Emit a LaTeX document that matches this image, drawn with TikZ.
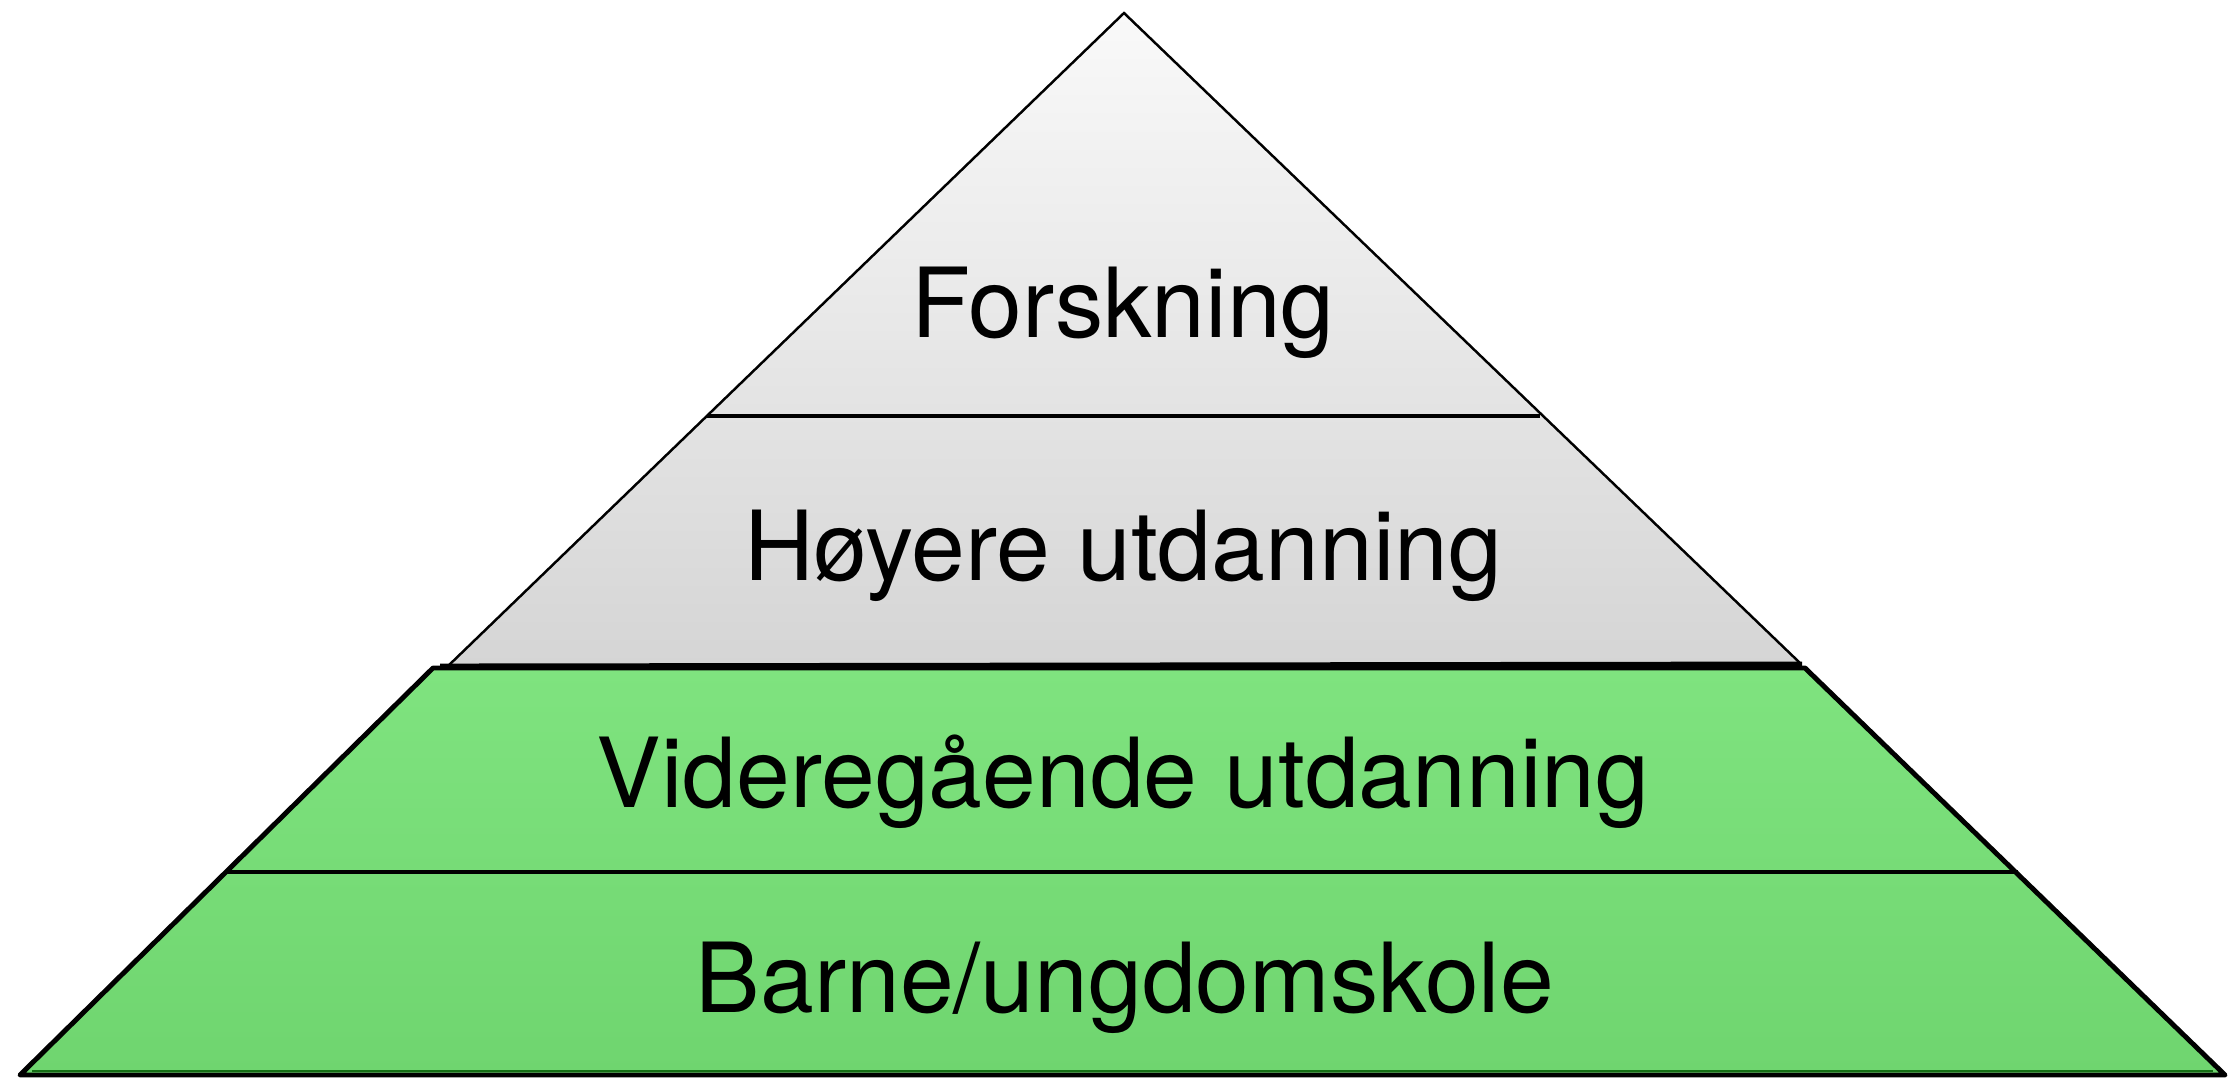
\documentclass[tikz,border=0pt]{standalone}
\usepackage{fontspec}
\setmainfont{TeX Gyre Heros}
\usepackage{tikz}
\usetikzlibrary{calc,positioning}
\definecolor{greytop}{RGB}{249,249,249}
\definecolor{greybot}{RGB}{213,213,213}
\definecolor{greentop}{RGB}{127,227,127}
\definecolor{greenbot}{RGB}{111,213,111}
\definecolor{greenedge}{RGB}{20,110,20}
\tikzset{
    layertext/.style={font=\fontsize{27.5}{33}\selectfont, anchor=base, inner sep=0pt},
    divider/.style={line width=1.4pt, color=black},
}

\begin{document}
\begin{tikzpicture}[x=0.01cm,y=-0.01cm]
\useasboundingbox (0,0) rectangle (2228,1078);

\coordinate (apex) at (1124,13);
\coordinate (gl) at (447,667);
\coordinate (gr) at (1800,663);
\coordinate (tl) at (433,668);
\coordinate (tr) at (1805,668);
\coordinate (bl) at (20,1075);
\coordinate (br) at (2225,1075);

% upper part
\shade [top color=greytop, bottom color=greybot] (apex) -- (gr) -- (gl) -- cycle;
\draw [line width=0.7pt] (gl) -- (apex) -- (gr);

% lower part
\shade [top color=greentop, bottom color=greenbot] (tl) -- (tr) -- (br) -- (bl) -- cycle;
\draw [line width=0.6pt, color=greenedge] ($(bl)+(12,-4)$) -- ($(br)+(-12,-4)$);
\draw [line width=1.4pt, line join=round] (tl) -- (tr) -- (br) -- (bl) -- cycle;
\draw [divider] (440,666) -- (1802,664);

\coordinate (d1l) at (707,416);
\coordinate (d1r) at (1540,416);
\coordinate (d2l) at (227,872);
\coordinate (d2r) at (2018,872);
\draw [divider] (d1l) -- (d1r);
\draw [divider] (d2l) -- (d2r);

\node [layertext] (forsk) at (1123,337) {Forskning};
\node [layertext] (hoy) at (1123,580) {Høyere utdanning};
\node [layertext] (vgs) at (1123,807) {Videregående utdanning};
\node [layertext] (barne) at (1125,1012) {Barne/ungdomskole};

\end{tikzpicture}
\end{document}
